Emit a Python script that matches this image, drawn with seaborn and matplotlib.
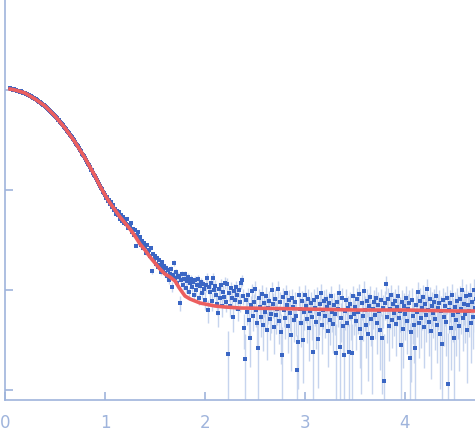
import numpy as np
import pandas as pd
import matplotlib
matplotlib.use('Agg')
import matplotlib.pyplot as plt
import seaborn as sns

# Curva de espalhamento: q de 0.05 a 4.75 (passo 0.01), valores em log10(I)
q_inicio = 0.05
q_fim = 4.75

log_i_guinier = [
    0.02, 0.01, 0.01, 0.00, 0.01, 0.00, 0.00, -0.01, -0.01, -0.01,
    -0.02, -0.01, -0.02, -0.03, -0.03, -0.03, -0.04, -0.04, -0.05, -0.05,
    -0.06, -0.06, -0.07, -0.08, -0.08, -0.09, -0.09, -0.10, -0.11, -0.12,
    -0.12, -0.13, -0.14, -0.15, -0.15, -0.16, -0.17, -0.18, -0.19, -0.20,
    -0.21, -0.22, -0.23, -0.24, -0.25, -0.26, -0.27, -0.28, -0.30, -0.30,
    -0.32, -0.33, -0.34, -0.35, -0.37, -0.38, -0.39, -0.41, -0.42, -0.43,
    -0.45, -0.46, -0.47, -0.49, -0.50, -0.52, -0.54, -0.55, -0.56, -0.58,
    -0.60, -0.61, -0.64, -0.65, -0.66, -0.68, -0.70, -0.72, -0.74, -0.75,
    -0.77, -0.80, -0.80, -0.83, -0.85, -0.86, -0.88, -0.90, -0.92, -0.94,
    -0.96, -0.98, -0.99, -1.02, -1.03,
]
log_i_medio = [
    -1.05, -1.08, -1.07, -1.11, -1.10, -1.14, -1.12, -1.17, -1.15, -1.20,
    -1.19, -1.24, -1.21, -1.25, -1.22, -1.29, -1.25, -1.31, -1.27, -1.33,
    -1.30, -1.34, -1.29, -1.38, -1.35, -1.37, -1.33, -1.42, -1.39, -1.45,
    -1.40, -1.56, -1.45, -1.42, -1.50, -1.47, -1.55, -1.51, -1.58, -1.53,
    -1.57, -1.63, -1.55, -1.62, -1.60, -1.66, -1.58, -1.81, -1.64, -1.70,
    -1.66, -1.74, -1.68, -1.77, -1.70, -1.75, -1.82, -1.72, -1.79, -1.76,
]
log_i_ombro = [
    -1.83, -1.78, -1.86, -1.80, -1.90, -1.84, -1.79, -1.97, -1.85, -1.73,
    -1.88, -1.82, -1.93, -1.86, -1.87, -2.13, -1.90, -1.84, -1.95, -1.89,
    -1.84, -1.98, -1.91, -1.87, -2.02, -1.93, -1.89, -1.97, -1.92, -2.05,
    -1.90, -2.00, -1.95, -1.89, -2.08, -1.96, -1.92, -2.03, -1.94, -1.99,
    -2.10, -1.95, -1.88, -2.20, -1.97, -2.02, -1.93, -2.11, -1.88, -2.00,
    -1.96, -2.05, -2.14, -2.23, -1.99, -2.08, -1.95, -2.16, -2.02, -2.07,
    -1.93, -2.12, -1.94, -2.64, -2.03, -2.16, -1.98, -2.08, -2.27, -2.01,
    -2.10, -1.97, -2.05, -2.19, -2.00, -2.12, -1.93, -1.90, -2.06, -2.38,
]
log_i_plato = [
    -2.69, -2.10, -2.22, -2.05, -2.30, -2.48, -2.15, -2.01, -2.26, -2.12,
    -1.99, -2.20, -2.33, -2.58, -2.08, -2.17, -2.27, -2.04, -2.35, -2.13,
    -2.22, -2.06, -2.40, -2.18, -2.11, -2.29, -2.24, -2.00, -2.14, -2.37,
    -2.09, -2.25, -2.19, -1.99, -2.31, -2.12, -2.42, -2.65, -2.07, -2.20,
    -2.28, -2.03, -2.15, -2.36, -2.10, -2.23, -2.45, -2.08, -2.17, -2.30,
    -2.12, -2.26, -2.80, -2.52, -2.05, -2.19, -2.33, -2.11, -2.50, -2.22,
    -2.05, -2.16, -2.29, -2.09, -2.38, -2.21, -2.13, -2.27, -2.62, -2.10,
    -2.18, -2.32, -2.07, -2.49, -2.24, -2.14, -2.03, -2.35, -2.20, -2.11,
    -2.26, -2.09, -2.17, -2.41, -2.13, -2.30, -2.06, -2.22, -2.34, -2.15,
    -2.24, -2.63, -2.12, -2.19, -2.03, -2.57, -2.28, -2.08, -2.36, -2.65,
    -2.21, -2.10, -2.33, -2.18, -2.62, -2.14, -2.27, -2.63, -2.06, -2.24,
    -2.17, -2.31, -2.09, -2.22, -2.04, -2.39, -2.48, -2.13, -2.26, -2.01,
    -2.20, -2.35, -2.11, -2.44, -2.16, -2.07, -2.29, -2.48, -2.19, -2.12,
    -2.25, -2.08, -2.33, -2.15, -2.21, -2.40, -2.10, -2.48, -2.18, -2.91,
    -2.13, -1.94, -2.27, -2.09, -2.36, -2.19, -2.05, -2.30, -2.14, -2.23,
    -2.11, -2.34, -2.17, -2.06, -2.28, -2.21, -2.55, -2.12, -2.39, -2.16,
    -2.24, -2.08, -2.31, -2.19, -2.13, -2.68, -2.42, -2.10, -2.26, -2.35,
    -2.58, -2.15, -2.22, -2.02, -2.33, -2.11, -2.28, -2.18, -2.07, -2.37,
    -2.14, -2.25, -1.99, -2.20, -2.32, -2.09, -2.41, -2.16, -2.23, -2.12,
    -2.29, -2.06, -2.35, -2.18, -2.13, -2.44, -2.21, -2.54, -2.10, -2.27,
    -2.16, -2.32, -2.08, -2.94, -2.20, -2.13, -2.38, -2.05, -2.25, -2.48,
    -2.17, -2.30, -2.11, -2.22, -2.36, -2.09, -2.19, -2.00, -2.28, -2.14,
    -2.24, -2.06, -2.40, -2.15, -2.21, -2.05, -2.33, -2.12, -2.27, -2.00,
    -2.18, -2.09, -1.90, -2.31, -2.16, -2.22,
]

# Erro absoluto (em I) por faixa de q
erro_faixa_q = [0.0, 1.0, 1.6, 2.0, 2.5, 3.0, 3.5, 4.0, 4.5]
erro_faixa_valor = [0.002, 0.0009, 0.0012, 0.0016, 0.0020, 0.0022, 0.0024, 0.0026, 0.0028]

# Curva ajustada
ajuste_q = [0.05, 0.10, 0.20, 0.30, 0.40, 0.50, 0.60, 0.70, 0.80, 0.90,
            0.95, 1.00, 1.05, 1.10, 1.15, 1.20, 1.25, 1.30, 1.35, 1.40, 1.45,
            1.50, 1.55, 1.60, 1.65, 1.70, 1.75, 1.80, 1.85, 1.90, 1.95,
            2.00, 2.10, 2.20, 2.35, 2.70, 3.00, 3.50, 4.00, 4.50, 4.75]
ajuste_log_i = [0.01, 0.00, -0.03, -0.09, -0.16, -0.26, -0.38, -0.52, -0.68, -0.86,
                -0.96, -1.05, -1.13, -1.20, -1.27, -1.33, -1.39, -1.46, -1.54, -1.60, -1.67,
                -1.73, -1.79, -1.84, -1.87, -1.91, -1.99, -2.06, -2.09, -2.11, -2.13,
                -2.14, -2.16, -2.17, -2.18, -2.185, -2.19, -2.20, -2.20, -2.21, -2.21]

log_i = log_i_guinier + log_i_medio + log_i_ombro + log_i_plato
q = np.linspace(q_inicio, q_fim, len(log_i))
dados = pd.DataFrame({'q': q, 'I': 10 ** np.array(log_i)})
idx = np.searchsorted(erro_faixa_q, dados['q'], side='right') - 1
dados['erro'] = np.array(erro_faixa_valor)[idx]
ajuste = pd.DataFrame({'q': ajuste_q, 'I': 10 ** np.array(ajuste_log_i)})

cor_eixo = '#9fb4dc'

fig = plt.figure(figsize=(4.75, 4.38), dpi=100)
ax = fig.add_axes([5 / 475, 38 / 438, 470 / 475, 400 / 438])

# Barras de erro
inferior = dados['I'] - np.maximum(dados['I'] - dados['erro'], 1e-5)
ax.errorbar(dados['q'], dados['I'], yerr=[inferior, dados['erro']], fmt='none',
            ecolor='#c6d4ee', elinewidth=1, capsize=0, zorder=1)

sns.scatterplot(data=dados, x='q', y='I', ax=ax, color='#3a66c4', marker='s',
                s=8, linewidth=0, zorder=2)
sns.lineplot(data=ajuste, x='q', y='I', ax=ax, color='#ec5f5f', linewidth=2.6,
             zorder=3)

ax.set_yscale('log')
ax.set_xlim(0, 4.7)
ax.set_ylim(10 ** -3.1, 10 ** 0.9)
ax.set_xticks([0, 1, 2, 3, 4])
ax.set_yticks([1, 0.1, 0.01, 0.001])
ax.yaxis.set_minor_locator(matplotlib.ticker.NullLocator())
ax.set_yticklabels([])
ax.set_xlabel('')
ax.set_ylabel('')

for lado in ['top', 'right']:
    ax.spines[lado].set_visible(False)
for lado in ['left', 'bottom']:
    ax.spines[lado].set_color(cor_eixo)
    ax.spines[lado].set_linewidth(1.2)
ax.tick_params(direction='in', length=6, width=1.2, color=cor_eixo,
               labelcolor=cor_eixo, labelsize=12, pad=10)
ax.set_facecolor('white')

plt.savefig('out.png', dpi=100)
plt.close()
